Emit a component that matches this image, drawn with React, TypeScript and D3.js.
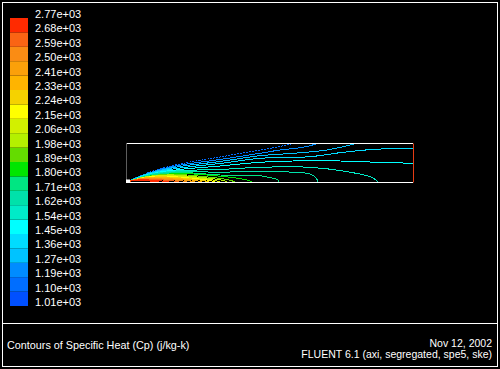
import * as d3 from 'd3'

// colour bar tick labels, bottom (lowest) to top
const levelLabels = [
  "1.01e+03", "1.10e+03", "1.19e+03", "1.27e+03", "1.36e+03", "1.45e+03", "1.54e+03",
  "1.62e+03", "1.71e+03", "1.80e+03", "1.89e+03", "1.98e+03", "2.06e+03", "2.15e+03",
  "2.24e+03", "2.33e+03", "2.41e+03", "2.50e+03", "2.59e+03", "2.68e+03", "2.77e+03",
]
const cpMin = 1010
const cpMax = 2770

// band colours, bottom to top
const bandColors = [
  "#0050ff", "#006eff", "#008cff", "#00c3ff", "#00dcff", "#00ffff", "#00ebc8",
  "#00e1aa", "#00e682", "#00e600", "#64dc00", "#b4f000", "#d2f000", "#ffff00",
  "#f5d200", "#ffb400", "#fba00a", "#fa8c14", "#fa6414", "#ff2a00",
]

// domain extent (mm): axial length, radius
const domainX = 286
const domainR = 38.5

// contour level of every line (J/kg-K)
const contourLevels = [
  1140, 1200, 1300, 1400, 1490, 1580, 1670, 1760, 1850, 1940,
  2020, 2100, 2190, 2280, 2370, 2450, 2540, 2630, 2720, 2750,
]

// contour lines as [axial mm, radial mm]
const contourLines: [number, number][][] = [
  [[0, 0], [23, 10], [53, 18], [93, 25], [133, 32], [150, 35], [163, 37.7], [166, 39]],
  [[0, 0], [23, 9.5], [53, 16.8], [93, 22.5], [133, 28.7], [153, 32], [173, 34.3], [188, 37.7], [191, 39]],
  [[0, 0], [23, 9], [53, 15.5], [93, 20.5], [133, 26.3], [166, 28.7], [200, 32], [226, 37.7], [230, 39]],
  [[0, 0], [23, 8.5], [53, 14], [93, 18.5], [133, 23.7], [183, 25.3], [216, 29.7], [248, 32.7], [286, 33.7]],
  [[0, 0], [23, 8], [53, 12.5], [93, 16], [133, 19.7], [166, 21], [213, 21], [233, 20.3], [286, 18.7]],
  [[0, 0], [23, 7.5], [53, 11.3], [93, 12.5], [133, 14.7], [183, 14.7], [216, 11], [243, 5.3], [249, 2], [251, 0]],
  [[0, 0], [23, 7], [53, 10.3], [93, 9.8], [133, 10.8], [153, 10.3], [183, 8], [189, 4], [191, 0]],
  [[0, 0], [23, 6.5], [53, 9.5], [93, 7], [133, 6.3], [143, 4.3], [150, 2.7], [152, 0]],
  [[0, 0], [23, 6], [53, 8.5], [93, 5.8], [112, 3.6], [121, 1.7], [125, 0]],
  [[0, 0], [20, 5.5], [45, 7.8], [75, 5.6], [96, 3.2], [104, 1.5], [108, 0]],
  [[0, 0], [18, 5], [42, 7.1], [70, 5], [89, 2.9], [97, 1.2], [100, 0]],
  [[0, 0], [17, 4.6], [38, 6.4], [65, 4.6], [83, 2.6], [90, 1.1], [93, 0]],
  [[0, 0], [16, 4.2], [36, 5.8], [60, 4.2], [78, 2.3], [85, 1], [88, 0]],
  [[0, 0], [15, 3.8], [33, 5.2], [56, 3.8], [72, 2.1], [79, 0.9], [82, 0]],
  [[0, 0], [13, 3.4], [30, 4.6], [51, 3.4], [66, 1.9], [72, 0.8], [75, 0]],
  [[0, 0], [12, 3], [27, 4], [46, 3], [60, 1.6], [65, 0.7], [68, 0]],
  [[0, 0], [10, 2.6], [24, 3.4], [41, 2.6], [53, 1.4], [58, 0.6], [60, 0]],
  [[0, 0], [9, 2.1], [21, 2.8], [35, 2.1], [46, 1.1], [50, 0.4], [52, 0]],
  [[0, 0], [7, 1.6], [17, 2.2], [28, 1.6], [37, 0.8], [42, 0]],
  [[0, 0], [5, 1.1], [13, 1.5], [22, 1.1], [29, 0.4], [32, 0]],
]

const inletR = 2.5

const title = "Contours of Specific Heat (Cp) (j/kg-k)"
const dateText = "Nov 12, 2002"
const solverText = "FLUENT 6.1 (axi, segregated, spe5, ske)"

const W = 500
const H = 369
const font = "'Liberation Sans', Arial, sans-serif"

export default function App() {
  const bandY = d3.scaleLinear().domain([0, bandColors.length]).range([306, 18])
  const colorOf = d3.scaleQuantize<string>().domain([cpMin, cpMax]).range(bandColors)

  const x = d3.scaleLinear().domain([0, domainX]).range([127, 413])
  const r = d3.scaleLinear().domain([0, domainR]).range([182, 143.5])

  const line = d3.line<[number, number]>()
    .x(d => x(d[0]))
    .y(d => r(d[1]))
    .curve(d3.curveCatmullRom.alpha(0.5))

  return (
    <svg width={W} height={H} style={{ position: 'absolute', left: 0, top: 0, background: '#000' }}>
      <rect width={W} height={H} fill="#000" />
      <defs>
        <clipPath id="domain-clip">
          <rect x={x(0)} y={r(domainR)} width={x(domainX) - x(0)} height={r(0) - r(domainR) + 0.5} />
        </clipPath>
      </defs>

      {/* colour bar */}
      {bandColors.map((c, i) => (
        <rect key={i} x={10} y={bandY(i + 1)} width={18} height={bandY(i) - bandY(i + 1)} fill={c} />
      ))}
      {levelLabels.map((t, i) => (
        <text key={t} x={35} y={bandY(i)} fill="#fff" fontSize={11} fontFamily={font}>{t}</text>
      ))}

      {/* contours */}
      <g clipPath="url(#domain-clip)" fill="none" strokeWidth={1} shapeRendering="crispEdges">
        {contourLines.map((pts, i) => (
          <path key={i} d={line(pts) ?? ''} stroke={colorOf(contourLevels[i])}
            strokeDasharray={i === 0 ? "2,1" : undefined} />
        ))}
      </g>

      {/* domain outline */}
      <line x1={x(0)} x2={x(domainX)} y1={r(domainR)} y2={r(domainR)} stroke="#fff" />
      <line x1={x(0)} x2={x(domainX)} y1={r(0) + 0.5} y2={r(0) + 0.5} stroke="#fff" />
      <line x1={x(0) - 0.5} x2={x(0) - 0.5} y1={r(domainR)} y2={r(0)} stroke="#bbb" strokeDasharray="1,1" />
      <line x1={x(domainX) + 0.5} x2={x(domainX) + 0.5} y1={r(domainR)} y2={r(0) + 0.5} stroke="#e63c14" />
      <rect x={x(0) - 1} y={r(inletR)} width={4} height={r(0) - r(inletR) + 1} fill="#fff" />

      {/* frame */}
      <rect x={2.5} y={2.5} width={495} height={364} fill="none" stroke="#fff" />
      <line x1={2.5} x2={497.5} y1={323.5} y2={323.5} stroke="#fff" />

      {/* footer */}
      <text x={7} y={349} fill="#fff" fontSize={10.8} fontFamily={font}>{title}</text>
      <text x={492} y={346.5} fill="#fff" fontSize={10.5} fontFamily={font} textAnchor="end">{dateText}</text>
      <text x={492} y={357.5} fill="#fff" fontSize={10.5} fontFamily={font} textAnchor="end">{solverText}</text>
    </svg>
  )
}
